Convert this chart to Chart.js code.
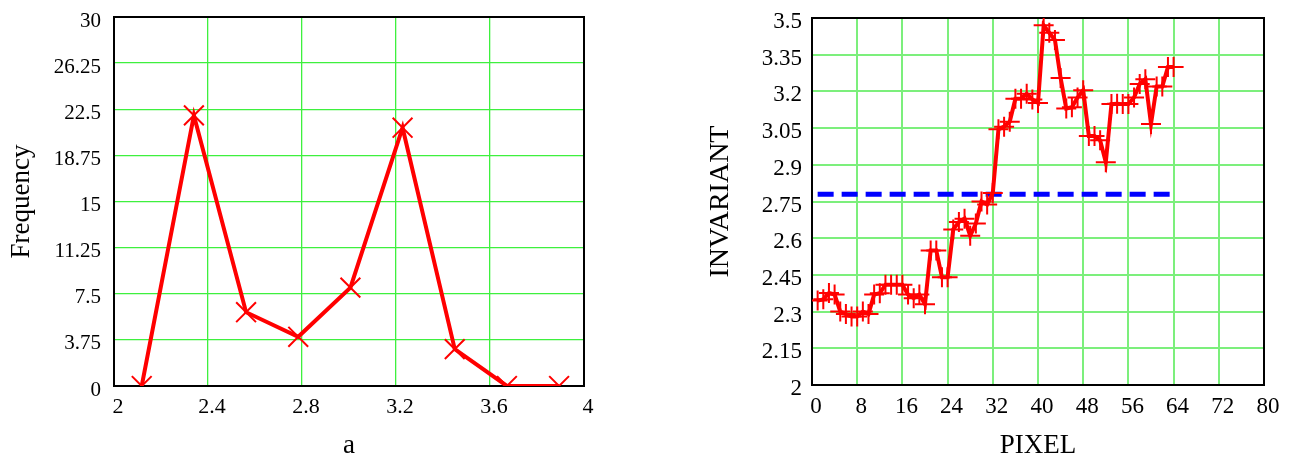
<!DOCTYPE html>
<html>
<head>
<meta charset="utf-8">
<script src="https://cdn.jsdelivr.net/npm/chart.js@4/dist/chart.umd.min.js"></script>
<style>
  html, body { margin: 0; padding: 0; background: #ffffff; }
  #wrap { position: relative; width: 1298px; height: 457px; overflow: hidden; }
  .pane { position: absolute; top: 0; height: 457px; }
  #paneLeft { left: 0; width: 650px; }
  #paneRight { left: 700px; width: 598px; }
</style>
</head>
<body>
<div id="wrap">
  <div class="pane" id="paneLeft"><canvas id="histChart" width="650" height="457"></canvas></div>
  <div class="pane" id="paneRight"><canvas id="pixelChart" width="598" height="457"></canvas></div>
</div>
<script>
// ---- histogram of the invariant values ----
const binCentres = [2.118, 2.340, 2.562, 2.784, 3.006, 3.228, 3.450, 3.672, 3.894];
const frequency  = [0, 22, 6, 4, 8, 21, 3, 0, 0];
const aTicks     = [2, 2.4, 2.8, 3.2, 3.6, 4];
const freqTicks  = [0, 3.75, 7.5, 11.25, 15, 18.75, 22.5, 26.25, 30];

// ---- invariant per pixel ----
const pixels = [
   1,  2,  3,  4,  5,  6,  7,  8,  9, 10, 11, 12, 13, 14, 15, 16,
  17, 18, 19, 20, 21, 22, 23, 24, 25, 26, 27, 28, 29, 30, 31, 32,
  33, 34, 35, 36, 37, 38, 39, 40, 41, 42, 43, 44, 45, 46, 47, 48,
  49, 50, 51, 52, 53, 54, 55, 56, 57, 58, 59, 60, 61, 62, 63, 64
];
const invariant = [
  2.345, 2.350, 2.376, 2.370, 2.300, 2.290, 2.280, 2.280,
  2.300, 2.290, 2.370, 2.375, 2.410, 2.410, 2.410, 2.410,
  2.370, 2.355, 2.370, 2.330, 2.550, 2.550, 2.440, 2.440,
  2.636, 2.666, 2.680, 2.610, 2.660, 2.750, 2.738, 2.785,
  3.045, 3.056, 3.076, 3.170, 3.170, 3.190, 3.167, 3.153,
  3.470, 3.440, 3.410, 3.255, 3.130, 3.135, 3.175, 3.205,
  3.018, 3.018, 3.000, 2.910, 3.148, 3.150, 3.148, 3.148,
  3.175, 3.230, 3.250, 3.067, 3.220, 3.220, 3.300, 3.300
];
const meanLevel  = 2.78;
const meanSpan   = [1, 64];
const pixelTicks = [0, 8, 16, 24, 32, 40, 48, 56, 64, 72, 80];
const invTicks   = [2, 2.15, 2.3, 2.45, 2.6, 2.75, 2.9, 3.05, 3.2, 3.35, 3.5];

const SERIF = "'Liberation Serif', 'Times New Roman', serif";

// black frame round the plotting area
const frame = {
  id: 'frame',
  beforeDatasetsDraw(chart) {
    const { ctx, chartArea: a } = chart;
    ctx.save();
    ctx.strokeStyle = '#000000';
    ctx.lineWidth = 2;
    ctx.strokeRect(a.left, a.top, a.right - a.left, a.bottom - a.top);
    ctx.restore();
  }
};

function fixedTicks(values) {
  return scale => { scale.ticks = values.map(v => ({ value: v })); };
}
function xAxis(min, max, values, title, height, gridColor, gridWidth, tickSize) {
  return {
    type: 'linear', position: 'bottom', min, max,
    afterBuildTicks: fixedTicks(values),
    afterFit: s => { s.height = height; s.paddingLeft = 0; s.paddingRight = 0; },
    grid: { color: gridColor, lineWidth: gridWidth, drawTicks: false },
    border: { display: false },
    ticks: {
      autoSkip: false, maxRotation: 0, padding: 10, labelOffset: 4, color: '#000',
      font: { family: SERIF, size: tickSize, lineHeight: 1 },
      callback: v => String(v)
    },
    title: {
      display: true, text: title, color: '#000',
      font: { family: SERIF, size: 27, lineHeight: 1 },
      padding: { top: 0, bottom: -2 }
    }
  };
}
function yAxis(min, max, values, title, width, gridColor, gridWidth, titlePad, tickPad, tickSize, titleSize) {
  return {
    type: 'linear', position: 'left', min, max,
    afterBuildTicks: fixedTicks(values),
    afterFit: s => { s.width = width; s.paddingTop = 0; s.paddingBottom = 0; },
    grid: { color: gridColor, lineWidth: gridWidth, drawTicks: false },
    border: { display: false },
    ticks: {
      autoSkip: false, padding: tickPad, labelOffset: 4, color: '#000',
      font: { family: SERIF, size: tickSize, lineHeight: 1 },
      callback: v => String(v)
    },
    title: {
      display: true, text: title, color: '#000',
      font: { family: SERIF, size: titleSize, lineHeight: 1 },
      padding: { top: titlePad, bottom: 0 }
    }
  };
}

const common = {
  responsive: false,
  animation: false,
  events: [],
  plugins: { legend: { display: false }, tooltip: { enabled: false } }
};

new Chart(document.getElementById('histChart'), {
  type: 'line',
  data: {
    datasets: [{
      data: binCentres.map((a, i) => ({ x: a, y: frequency[i] })),
      borderColor: '#ff0000',
      borderWidth: 4,
      pointStyle: 'crossRot',
      pointRadius: 14,
      pointBorderWidth: 2,
      pointBorderColor: '#ff0000',
      tension: 0
    }]
  },
  options: Object.assign({}, common, {
    layout: { padding: { top: 17, right: 66, bottom: 0, left: 0 } },
    scales: {
      x: xAxis(2, 4, aTicks, 'a', 71, '#3ef03e', 1.3, 22),
      y: yAxis(0, 30, freqTicks, 'Frequency', 114, '#3ef03e', 1.3, 8, 13, 21, 27)
    }
  }),
  plugins: [frame]
});

new Chart(document.getElementById('pixelChart'), {
  type: 'line',
  data: {
    datasets: [{
      data: meanSpan.map(p => ({ x: p, y: meanLevel })),
      borderColor: '#0000ff',
      borderWidth: 5,
      borderDash: [16, 8],
      pointRadius: 0,
      order: 2
    }, {
      data: pixels.map((p, i) => ({ x: p, y: invariant[i] })),
      borderColor: '#ff0000',
      borderWidth: 4,
      pointStyle: 'cross',
      pointRadius: 10,
      pointBorderWidth: 2,
      pointBorderColor: '#ff0000',
      tension: 0,
      order: 1
    }]
  },
  options: Object.assign({}, common, {
    layout: { padding: { top: 18, right: 34, bottom: 0, left: 0 } },
    scales: {
      x: xAxis(0, 80, pixelTicks, 'PIXEL', 72, '#7cef7c', 2, 23),
      y: yAxis(2, 3.5, invTicks, 'INVARIANT', 112, '#7cef7c', 2, 7, 10, 23, 28)
    }
  }),
  plugins: [frame]
});
</script>
</body>
</html>
